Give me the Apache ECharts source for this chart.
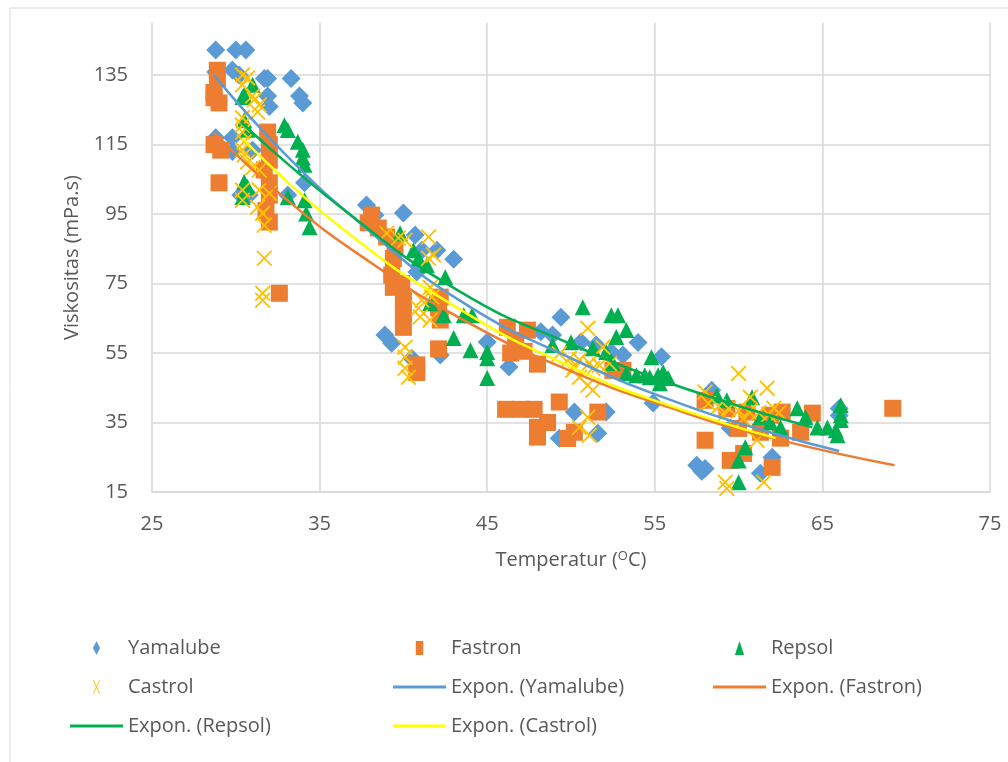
<!DOCTYPE html>
<html lang="en">

<head>
    <meta charset="UTF-8">
    <title>Viskositas vs Temperatur</title>
    <style>
        html, body { margin: 0; padding: 0; background: #fff; }
        #main { width: 1008px; height: 762px; }
    </style>
</head>

<body>
    <div id="main"></div>
</body>
<script src="https://cdn.jsdelivr.net/npm/echarts@6/dist/echarts.min.js"></script>
<script>
    // measured points [temperature, viscosity]
    const yamalube = [
        [28.8, 142.2], [30.0, 142.2], [30.6, 142.2], [29.8, 136.5], [28.8, 135.9], [30.2, 135], [31.7, 134], [31.9, 134],
        [33.3, 134], [31.9, 129], [33.8, 129], [32.0, 126], [34.0, 127], [28.8, 117], [29.8, 117], [29.8, 113], [31.0, 113.4],
        [34.1, 104], [30.3, 100.5], [30.8, 100.5], [33.1, 100.5],
        [37.8, 97.6], [40.0, 95.3], [38.3, 94.7], [40.7, 89], [41.1, 84.6], [42.0, 84.6], [43.0, 82], [40.8, 78.3],
        [38.9, 60.2], [39.3, 57.8], [40.5, 53.5], [42.2, 54.4], [45.0, 58.2],
        [49.4, 65.3], [46.3, 51], [48.2, 61.1], [48.9, 60.2], [50.6, 58.2], [51.5, 57.3], [52.4, 55.3], [53.1, 54.4],
        [54.0, 58], [55.4, 53.9], [54.9, 40.6], [50.2, 38], [52.1, 38], [51.6, 31.9], [49.3, 30.5],
        [58.4, 44.3], [57.5, 22.7], [58.0, 21.8], [57.8, 21], [61.3, 20.4], [62.0, 25], [66.0, 39], [66.0, 37], [59.5, 33.4]
    ];
    const fastron = [
        [28.9, 136.4], [28.9, 134], [28.7, 130], [28.7, 128.5], [29.0, 127], [28.7, 115], [29.1, 113.4], [29.0, 104],
        [31.9, 118.6], [32.0, 115], [32.0, 110.5], [31.7, 107.7], [32.0, 104], [32.0, 100.5], [31.8, 96], [32.0, 92.7], [32.6, 72.2],
        [38.1, 94.7], [37.9, 92.5], [38.5, 91], [39.0, 88.4], [39.5, 85.8], [39.4, 82.2], [39.3, 77.4], [39.4, 73.9], [39.9, 75],
        [40.0, 70.2], [40.0, 66.4], [40.0, 62.4], [40.8, 51.6], [40.8, 49.4], [42.1, 56.2], [42.2, 64.5], [42.1, 68], [42.2, 71.1],
        [46.2, 62.4], [47.4, 61.6], [46.7, 58.7], [46.4, 55], [47.2, 55.5], [48.0, 51.8], [46.1, 38.8], [47.0, 38.8], [47.8, 38.8],
        [49.3, 40.9], [48.0, 30.8], [48.0, 33.6], [48.6, 35], [49.8, 30.4], [50.2, 32.2], [51.6, 38], [52.5, 50], [53.1, 50],
        [58.0, 29.9], [59.5, 24.1], [60.3, 26.1], [62.0, 22.1], [58.0, 41.4], [59.3, 39], [60.0, 33.3], [61.3, 32.2], [62.5, 30.5],
        [62.6, 38], [63.7, 32.2], [64.4, 37.7], [61.9, 37.1], [60.5, 38], [69.2, 39.1]
    ];
    const repsol = [
        [31.0, 132.2], [30.5, 129.3], [30.4, 128.7], [30.5, 122], [30.7, 119.3], [32.9, 120.6], [33.1, 119.2], [33.7, 115.8],
        [34.0, 113.5], [34.0, 111.2], [34.1, 109.2], [30.5, 104.2], [30.7, 102.8], [30.4, 99.9], [33.1, 99.9], [34.1, 99],
        [34.2, 95.2], [34.4, 91.2],
        [39.8, 89.5], [40.6, 84.6], [40.9, 82.3], [41.4, 80.3], [42.5, 76.8], [42.4, 65.9], [41.6, 69.3], [43.0, 59.3],
        [44.0, 55.8], [43.6, 65.9], [44.1, 65.9], [45.0, 55.3], [45.0, 53.5], [45.0, 47.8],
        [50.7, 68.2], [52.4, 65.9], [52.8, 65.9], [53.3, 61.6], [52.7, 59.6], [48.9, 57.3], [50.0, 58.1], [51.3, 56.4],
        [52.1, 55.3], [52.5, 52.1], [53.3, 49.2], [53.9, 48.6], [54.4, 48.6], [54.8, 53.8], [55.2, 48.6], [55.5, 49.5],
        [55.3, 46.3], [55.8, 47.8], [54.7, 48],
        [58.7, 42.8], [59.3, 41.4], [60.8, 42.3], [60.4, 27.9], [60.0, 24.1], [60.0, 17.8], [63.5, 39.1], [64.0, 36.5],
        [64.7, 33.6], [65.3, 33.6], [65.8, 32.8], [65.9, 31.3], [66.1, 40], [66.1, 37.1], [66.1, 35.7], [61.9, 35],
        [62.5, 33.6], [61.3, 36.5]
    ];
    const castrol = [
        [30.4, 135], [30.4, 132.2], [30.7, 134.2], [31.1, 127.9], [31.4, 126.4], [31.3, 124.4], [31.0, 129], [30.4, 122.7],
        [30.4, 120.6], [30.4, 118.6], [30.5, 115.8], [30.4, 113.5], [30.5, 112], [30.7, 110], [31.0, 108.3], [31.4, 107.7],
        [30.4, 101.9], [31.4, 101.9], [32.0, 101], [31.3, 97], [31.6, 95.2], [31.7, 91.8], [31.7, 82.3], [31.6, 72.2],
        [31.6, 70.2], [30.4, 99],
        [39.0, 89.5], [39.7, 88.1], [40.1, 87.5], [41.5, 88.4], [41.8, 83.2], [41.5, 82.3], [41.6, 73.9], [41.7, 71.1],
        [41.1, 70.2], [40.9, 67.9], [41.0, 65.4], [41.6, 64.5], [40.1, 56.7], [40.1, 53.8], [40.1, 50.6], [40.3, 48],
        [51.0, 62.1], [51.9, 56.7], [49.3, 54.8], [49.9, 53.4], [50.5, 53], [51.1, 52.1], [51.7, 51.5], [50.2, 51],
        [51.3, 50.6], [52.3, 52], [50.1, 50], [50.5, 48], [51.0, 45.7], [51.3, 44.3], [51.0, 36.5], [50.5, 33.6], [51.1, 31.3],
        [60.0, 49.1], [61.7, 44.9], [58.0, 43.8], [60.7, 42.3], [62.1, 39.1], [58.2, 40.5], [58.8, 39.6], [59.4, 39],
        [60.0, 38.4], [60.6, 38.1], [61.2, 37.8], [61.8, 37.3], [62.4, 37.8], [59.1, 37], [60.3, 36], [61.1, 29.9],
        [59.2, 17.8], [59.3, 16], [61.5, 17.8]
    ];

    // exponential trendlines, points
    const trendYamalube = [[28.7, 135], [33, 112], [38, 90], [43.4, 70], [50, 53.5], [56.5, 40.5], [62, 32], [66, 26.8]];
    const trendFastron = [[28.7, 118.5], [33, 99.3], [38, 81.2], [43.4, 65], [50, 49.8], [56.5, 38.3], [62, 30.5], [69.3, 22.7]];
    const trendRepsol = [[30.3, 121.5], [36.2, 97.2], [43.4, 72.6], [50, 57.6], [56.5, 45.3], [64.4, 33.6]];
    const trendCastrol = [[30.4, 116.8], [36.2, 91.4], [43.4, 67.5], [50, 51], [55, 41.3], [62.2, 30.5]];

    const xTicks = [25, 75, 10];   // min, max, step
    const yTicks = [15, 150, 20];

    const COLORS = { yamalube: '#5B9BD5', fastron: '#ED7D31', repsol: '#00B050', castrol: '#FFC000', castrolLine: '#FFFF00' };
    const TXT = '#595959';
    const FONT = '"Open Sans", "Noto Sans", sans-serif';
    const CROSS = 'path://M0,1.3L1.3,0L8,6.7L14.7,0L16,1.3L9.3,8L16,14.7L14.7,16L8,9.3L1.3,16L0,14.7L6.7,8Z';
    const LINE_ICON = 'path://M0,0H53V3H0Z';

    function scatter(name, data, symbol, size, color) {
        return {
            name: name, type: 'scatter', data: data, symbol: symbol, symbolSize: size,
            itemStyle: { color: color, opacity: 1 }, z: 2
        };
    }
    function trend(name, data, color) {
        return {
            name: name, type: 'line', data: data, smooth: true, symbol: 'none', showSymbol: false,
            lineStyle: { color: color, width: 2.5 }, itemStyle: { color: color }, z: 5
        };
    }

    const legendBase = {
        orient: 'vertical', top: 638, padding: 0, itemWidth: 53, itemHeight: 14, itemGap: 19,
        textStyle: { color: TXT, fontSize: 20, fontFamily: FONT }, selectedMode: false
    };

    const doc = document.getElementById('main');
    echarts.init(doc).setOption({
        backgroundColor: '#fff',
        animation: false,
        graphic: [{
            type: 'rect', shape: { x: 10, y: 8, width: 1020, height: 780 },
            style: { fill: 'none', stroke: '#D9D9D9', lineWidth: 1 }, silent: true
        }],
        grid: { left: 152, right: 18, top: 23, bottom: 270 },
        xAxis: {
            type: 'value', min: xTicks[0], max: xTicks[1], interval: xTicks[2],
            name: 'Temperatur ({sup|O}C)', nameLocation: 'middle', nameGap: 58,
            nameTextStyle: {
                color: TXT, fontSize: 20, fontFamily: FONT,
                rich: { sup: { fontSize: 13, verticalAlign: 'top', padding: [0, 0, 8, 0], color: TXT, fontFamily: FONT } }
            },
            axisLine: { show: true, lineStyle: { color: '#D9D9D9', width: 1.5 } },
            axisTick: { show: false },
            axisLabel: { color: TXT, fontSize: 20, fontFamily: FONT, margin: 22 },
            splitLine: { show: true, lineStyle: { color: '#D9D9D9', width: 1.5 } }
        },
        yAxis: {
            type: 'value', min: yTicks[0], max: yTicks[1], interval: yTicks[2],
            name: 'Viskositas (mPa.s)', nameLocation: 'middle', nameGap: 70,
            nameTextStyle: { color: TXT, fontSize: 20, fontFamily: FONT },
            axisLine: { show: false },
            axisTick: { show: false },
            axisLabel: { color: TXT, fontSize: 20, fontFamily: FONT, margin: 24, showMaxLabel: false },
            splitLine: { show: true, showMaxLine: false, lineStyle: { color: '#D9D9D9', width: 1.5 } }
        },
        legend: [
            Object.assign({}, legendBase, {
                left: 70, data: [
                    { name: 'Yamalube', icon: 'path://M5,0L10,10L5,20L0,10Z' },
                    { name: 'Castrol', icon: 'path://M0,1L1,0L5,8.5L9,0L10,1L5.6,10L10,19L9,20L5,11.5L1,20L0,19L4.4,10Z' },
                    { name: 'Expon. (Repsol)', icon: LINE_ICON }
                ]
            }),
            Object.assign({}, legendBase, {
                left: 393, data: [
                    { name: 'Fastron', icon: 'path://M0,0H8V15H0Z' },
                    { name: 'Expon. (Yamalube)', icon: LINE_ICON },
                    { name: 'Expon. (Castrol)', icon: LINE_ICON }
                ]
            }),
            Object.assign({}, legendBase, {
                left: 713, data: [
                    { name: 'Repsol', icon: 'path://M4,0L8,12H0Z' },
                    { name: 'Expon. (Fastron)', icon: LINE_ICON }
                ]
            })
        ],
        series: [
            scatter('Yamalube', yamalube, 'diamond', 19, COLORS.yamalube),
            scatter('Fastron', fastron, 'rect', 17, COLORS.fastron),
            scatter('Repsol', repsol, 'triangle', 16, COLORS.repsol),
            scatter('Castrol', castrol, CROSS, 16, COLORS.castrol),
            trend('Expon. (Yamalube)', trendYamalube, COLORS.yamalube),
            trend('Expon. (Fastron)', trendFastron, COLORS.fastron),
            trend('Expon. (Repsol)', trendRepsol, COLORS.repsol),
            trend('Expon. (Castrol)', trendCastrol, COLORS.castrolLine)
        ]
    });
</script>

</html>
